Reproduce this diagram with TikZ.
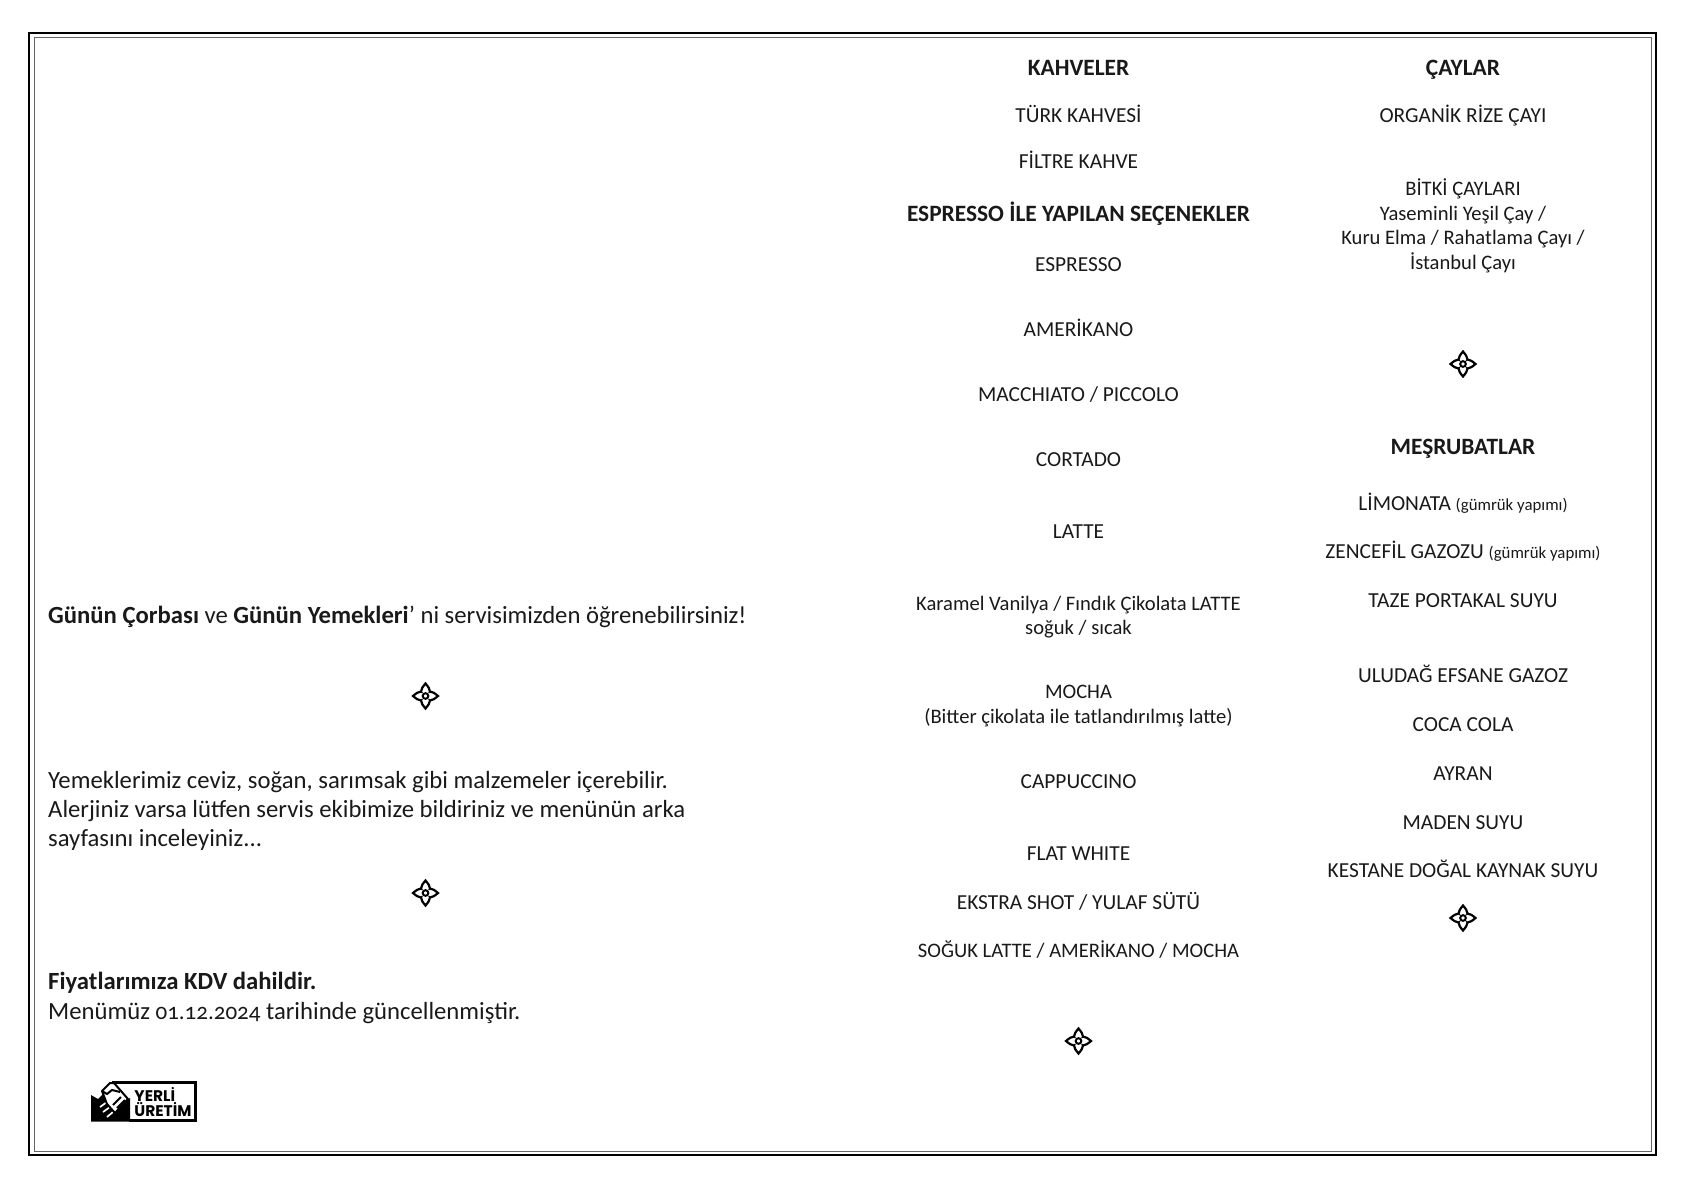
\documentclass[tikz,border=0pt]{standalone}
\usepackage{fontspec}
\setmainfont{Carlito}[Numbers=OldStyle]
\newfontfamily\logofont{Poppins}
\newcommand{\smallnote}{\fontsize{16.8}{16.8}\selectfont}
\newcommand{\datenote}{\fontsize{23}{29.4}\selectfont}
\tikzset{
  menublock/.style={inner sep=0pt, anchor=center, align=center, font=\fontsize{20.6}{24.6}\selectfont, text=black!90},
  menutext/.style={menublock, text height=18pt, text depth=3pt},
  menucaps/.style={menutext, font=\fontsize{21.4}{24.6}\selectfont},
  menuhead/.style={menutext, font=\fontsize{23.4}{25}\selectfont\bfseries},
  menunote/.style={inner sep=0pt, anchor=west, align=left, font=\fontsize{24.7}{29.4}\selectfont, text=black!90},
  ornament/.pic={
    \draw [line width=2.2pt, line join=miter] (0,-12.5) .. controls (2.5,-9.5) and (4.5,-7) .. (4.5,-4.5) .. controls (7,-4.5) and (9.5,-2.5) .. (12.5,0) .. controls (9.5,2.5) and (7,4.5) .. (4.5,4.5) .. controls (4.5,7) and (2.5,9.5) .. (0,12.5) .. controls (-2.5,9.5) and (-4.5,7) .. (-4.5,4.5) .. controls (-7,4.5) and (-9.5,2.5) .. (-12.5,0) .. controls (-9.5,-2.5) and (-7,-4.5) .. (-4.5,-4.5) .. controls (-4.5,-7) and (-2.5,-9.5) .. (0,-12.5) -- cycle;
    \draw [line width=1.3pt] (-4.5,-4.5) -- (4.5,4.5);
    \draw [line width=1.3pt] (-4.5,4.5) -- (4.5,-4.5);
    \fill [white] (0,0) circle [radius = 4.5];
    \draw [line width=2pt] (0,0) circle [radius = 2.8];
  }
}
\begin{document}
\begin{tikzpicture}[x=1pt,y=-1pt]
  \useasboundingbox (0,0) rectangle (1683,1190);
  % frame
  \draw [line width=2.2pt] (29,33) rectangle (1656,1155);
  \draw [line width=1pt, black!60] (34,38) rectangle (1651,1151);
  % left column
  \node [menunote] (soup) at (48,616.5) {\textbf{Günün Çorbası} ve \textbf{Günün Yemekleri}’ ni servisimizden öğrenebilirsiniz!};
  \node [menunote] (allergy) at (48,811) {Yemeklerimiz ceviz, soğan, sarımsak gibi malzemeler içerebilir.\\Alerjiniz varsa lütfen servis ekibimize bildiriniz ve menünün arka\\sayfasını inceleyiniz...};
  \node [menunote] (tax) at (48,998) {\textbf{Fiyatlarımıza KDV dahildir.}\\Menümüz {\datenote 01.12.2024} tarihinde güncellenmiştir.};
  \pic at (425.5,696) {ornament};
  \pic at (425.5,893) {ornament};
  % logo
  \draw [line width=3pt] (112,1082) -- (195.5,1082) -- (195.5,1120) -- (129,1120);
  \fill (91,1095) -- (98,1099) -- (105,1092) -- (118,1106) -- (130,1098) -- (130,1121.5) -- (91,1121.5) -- cycle;
  \draw [white, line width=1.7pt] (100,1107) -- (107,1102) (103,1112) -- (110,1107) (107,1117) -- (113,1112);
  \draw [line width=2pt, fill=white, line join=round] (102,1091) -- (110,1083) -- (114,1083) -- (128,1099) -- (115,1113) -- (107,1104) -- cycle;
  \draw [line width=2pt] (102,1091) -- (107,1094) -- (112,1090) -- (120,1092);
  \draw [line width=1.8pt] (113,1105) -- (121,1097) (117,1108) -- (125,1100);
  \node [inner sep=0pt, font=\fontsize{15.4}{15.6}\logofont\bfseries, align=left] (logotext) at (163,1102) {YERLİ\\ÜRETİM};
  % coffee column
  \node [menuhead] (kahveler) at (1078.5,68) {KAHVELER};
  \node [menucaps] (turk) at (1078.5,115) {TÜRK KAHVESİ};
  \node [menucaps] (filtre) at (1078.5,161) {FİLTRE KAHVE};
  \node [menuhead] (espressohead) at (1078.5,214) {ESPRESSO İLE YAPILAN SEÇENEKLER};
  \node [menucaps] (espresso) at (1078.5,264) {ESPRESSO};
  \node [menucaps] (amerikano) at (1078.5,329) {AMERİKANO};
  \node [menucaps] (macchiato) at (1078.5,394) {MACCHIATO / PICCOLO};
  \node [menucaps] (cortado) at (1078.5,459) {CORTADO};
  \node [menucaps] (latte) at (1078.5,531) {LATTE};
  \node [menublock] (karamel) at (1078.5,617) {Karamel Vanilya / Fındık Çikolata LATTE\\soğuk / sıcak};
  \node [menublock] (mocha) at (1078.5,706) {MOCHA\\(Bitter çikolata ile tatlandırılmış latte)};
  \node [menucaps] (cappuccino) at (1078.5,781) {CAPPUCCINO};
  \node [menucaps] (flatwhite) at (1078.5,853) {FLAT WHITE};
  \node [menucaps] (ekstra) at (1078.5,902) {EKSTRA SHOT / YULAF SÜTÜ};
  \node [menutext] (soguk) at (1078.5,950) {SOĞUK LATTE / AMERİKANO / MOCHA};
  \pic at (1078.5,1041) {ornament};
  % tea and soft drinks column
  \node [menuhead] (caylar) at (1463,68) {ÇAYLAR};
  \node [menucaps] (organik) at (1463,115) {ORGANİK RİZE ÇAYI};
  \node [menublock] (bitki) at (1463,226) {BİTKİ ÇAYLARI\\Yaseminli Yeşil Çay /\\Kuru Elma / Rahatlama Çayı /\\İstanbul Çayı};
  \pic at (1463,364) {ornament};
  \node [menuhead] (mesrubat) at (1463,447) {MEŞRUBATLAR};
  \node [menucaps] (limonata) at (1463,503) {LİMONATA {\smallnote (gümrük yapımı)}};
  \node [menucaps] (zencefil) at (1463,550.5) {ZENCEFİL GAZOZU {\smallnote (gümrük yapımı)}};
  \node [menucaps] (portakal) at (1463,600) {TAZE PORTAKAL SUYU};
  \node [menucaps] (uludag) at (1463,675) {ULUDAĞ EFSANE GAZOZ};
  \node [menucaps] (coca) at (1463,724) {COCA COLA};
  \node [menucaps] (ayran) at (1463,772.5) {AYRAN};
  \node [menucaps] (maden) at (1463,821.5) {MADEN SUYU};
  \node [menucaps] (kestane) at (1463,870) {KESTANE DOĞAL KAYNAK SUYU};
  \pic at (1463,918) {ornament};
\end{tikzpicture}
\end{document}
